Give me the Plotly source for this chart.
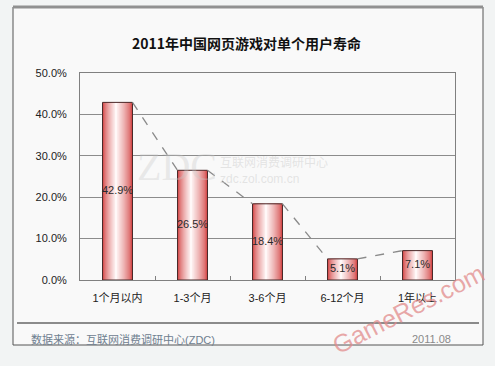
import plotly.graph_objects as go

categories = ["1个月以内", "1-3个月", "3-6个月", "6-12个月", "1年以上"]
values = [42.9, 26.5, 18.4, 5.1, 7.1]
y_ticks = [0, 10, 20, 30, 40, 50]
y_tick_text = ["0.0%", "10.0%", "20.0%", "30.0%", "40.0%", "50.0%"]
title_text = "2011年中国网页游戏对单个用户寿命"
source_text = "数据来源：互联网消费调研中心(ZDC)"
date_text = "2011.08"

FONT = "Liberation Sans, Arial, Noto Sans CJK SC, sans-serif"
xs = list(range(len(categories)))
BAR_W = 0.4
half = BAR_W / 2

fig = go.Figure()

# gradient bars via overlaid layers
N = 14
edge = (212, 70, 70)
center = (255, 248, 248)
hl = 0.45  # highlight position fraction from left
for k in range(N):
    t = k / (N - 1)
    left = -half + t * (BAR_W * hl) * 0.97
    right = half - t * (BAR_W * (1 - hl)) * 0.97
    c = tuple(int(edge[i] + (center[i] - edge[i]) * (t ** 0.7)) for i in range(3))
    fig.add_trace(go.Bar(
        x=xs, y=values, width=right - left, offset=left,
        marker=dict(color="rgb(%d,%d,%d)" % c, line=dict(width=0)),
        hoverinfo="skip", showlegend=False,
    ))
# outline on top
fig.add_trace(go.Bar(
    x=xs, y=values, width=BAR_W, offset=-half,
    marker=dict(color="rgba(0,0,0,0)", line=dict(color="#4a2a2a", width=1)),
    hoverinfo="skip", showlegend=False,
))

# series lines connecting bar top corners
lx, ly = [], []
for i in range(len(values) - 1):
    lx += [xs[i] + half, xs[i + 1] - half, None]
    ly += [values[i], values[i + 1], None]
fig.add_trace(go.Scatter(x=lx, y=ly, mode="lines",
                         line=dict(color="#8a8a8a", width=1.3, dash="dash"),
                         hoverinfo="skip", showlegend=False))

# data labels
fig.add_trace(go.Scatter(
    x=xs, y=[v / 2 for v in values], mode="text",
    text=["%.1f%%" % v for v in values],
    textfont=dict(family=FONT, size=11, color="#2a2a2a"),
    hoverinfo="skip", showlegend=False,
))

L, R, T, B = 80, 40, 73, 86
W, H = 495, 366
pw, ph = W - L - R, H - T - B


def px(x):
    return (x - L) / pw


def py(y):
    return 1 - (y - T) / ph


shapes = [
    dict(type="rect", xref="paper", yref="paper", x0=px(13), x1=px(483), y0=py(345), y1=py(7),
         line=dict(color="#555555", width=1), fillcolor="#f9f9f9", layer="below"),
    dict(type="line", xref="paper", yref="paper", x0=px(13), x1=px(483), y0=py(7), y1=py(7),
         line=dict(color="#909090", width=3)),
    dict(type="line", xref="paper", yref="paper", x0=px(17), x1=px(479), y0=py(323), y1=py(323),
         line=dict(color="#666666", width=1.5)),
]

annotations = [
    dict(text="<b>" + title_text + "</b>", xref="paper", yref="paper", x=px(246), y=py(43),
         xanchor="center", yanchor="middle", showarrow=False,
         font=dict(family="Noto Sans CJK SC, sans-serif", size=14, color="#111111")),
    dict(text=source_text, xref="paper", yref="paper", x=px(29), y=py(339),
         xanchor="left", yanchor="middle", showarrow=False,
         font=dict(family=FONT, size=11, color="#6f8090")),
    dict(text=date_text, xref="paper", yref="paper", x=px(453), y=py(339),
         xanchor="right", yanchor="middle", showarrow=False,
         font=dict(family=FONT, size=11, color="#8a8a8a")),
    # watermarks
    dict(text="ZDC", xref="paper", yref="paper", x=px(177), y=py(166),
         xanchor="center", yanchor="middle", showarrow=False,
         font=dict(family="Liberation Serif, serif", size=40, color="rgba(200,200,200,0.35)")),
    dict(text="互联网消费调研中心<br>zdc.zol.com.cn", xref="paper", yref="paper", x=px(218), y=py(170),
         xanchor="left", yanchor="middle", showarrow=False, align="left",
         font=dict(family=FONT, size=12, color="rgba(200,200,200,0.45)")),
    dict(text="GameRes.com", xref="paper", yref="paper", x=px(408), y=py(309),
         xanchor="center", yanchor="middle", showarrow=False, textangle=-27,
         font=dict(family="Liberation Sans, Arial, sans-serif", size=25, color="rgba(226,140,140,0.75)")),
]

fig.update_layout(
    width=W, height=H,
    margin=dict(l=L, r=R, t=T, b=B),
    paper_bgcolor="#f2f4f4",
    plot_bgcolor="#f9f9f9",
    barmode="overlay",
    showlegend=False,
    shapes=shapes,
    annotations=annotations,
    xaxis=dict(range=[-0.5, len(categories) - 0.5], tickvals=xs, ticktext=categories,
               showgrid=False, zeroline=False, showline=True, linecolor="#808080", mirror=True,
               ticks="", ticklabelstandoff=8,
               tickfont=dict(family=FONT, size=11, color="#222222"),
               minor=dict(tickvals=[i + 0.5 for i in xs[:-1]], ticks="inside", ticklen=4,
                          tickcolor="#808080", showgrid=False),
               fixedrange=True),
    yaxis=dict(range=[0, 50], tickvals=y_ticks, ticktext=y_tick_text,
               showgrid=True, gridcolor="#8c8c8c", gridwidth=1, zeroline=False,
               showline=True, linecolor="#808080", mirror=True, ticks="",
               ticklabelstandoff=10,
               tickfont=dict(family=FONT, size=11, color="#222222"),
               fixedrange=True),
)

fig.write_html("out.html", config={"displayModeBar": False})
